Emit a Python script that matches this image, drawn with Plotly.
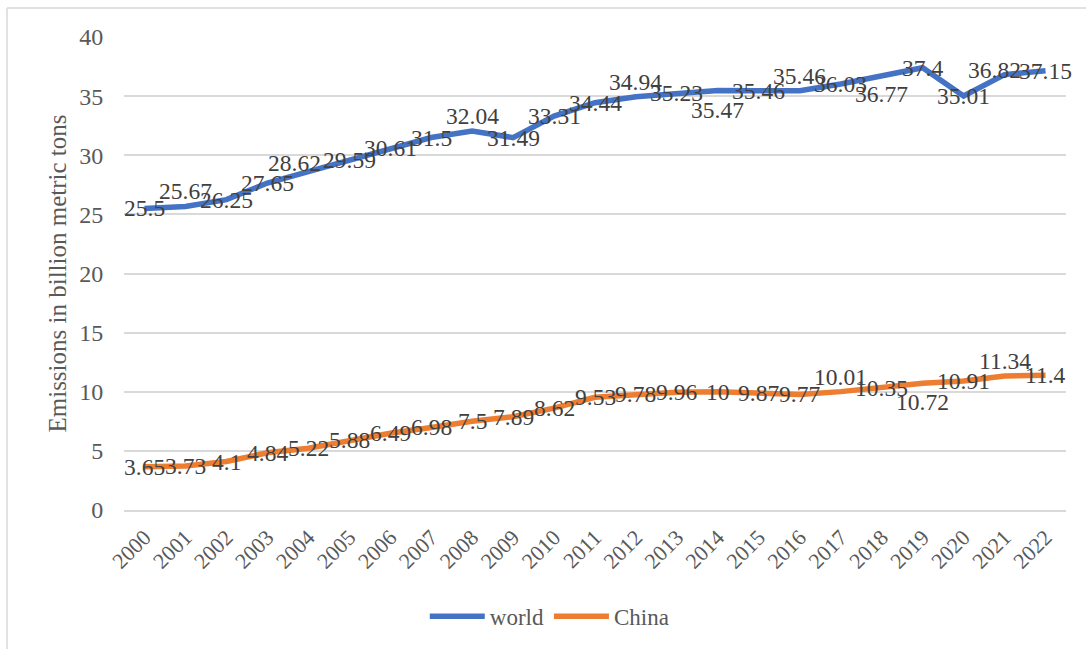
import plotly.graph_objects as go

# Annual CO2 emissions, billion metric tons
years = [str(y) for y in range(2000, 2023)]
world = [25.5, 25.67, 26.25, 27.65, 28.62, 29.59, 30.61, 31.5, 32.04, 31.49, 33.31,
         34.44, 34.94, 35.23, 35.47, 35.46, 35.46, 36.03, 36.77, 37.4, 35.01, 36.82, 37.15]
china = [3.65, 3.73, 4.1, 4.84, 5.22, 5.88, 6.49, 6.98, 7.5, 7.89, 8.62,
         9.53, 9.78, 9.96, 10, 9.87, 9.77, 10.01, 10.35, 10.72, 10.91, 11.34, 11.4]
y_ticks = [0, 5, 10, 15, 20, 25, 30, 35, 40]

# data-label placement: c = centred on point, a = above, b = below, tl/l = nudged left
world_label_pos = ["c", "a", "c", "c", "tl", "c", "c", "c", "a", "c", "c", "c",
                   "a", "c", "b", "c", "a", "c", "b", "c", "c", "l", "c"]
china_label_pos = ["c"] * 17 + ["a", "c", "b", "c", "a", "c"]
label_shift = {"c": (0, 0), "a": (0, 15), "b": (0, -19), "tl": (-14, 9), "l": (-10, 5)}

FONT = "Liberation Serif, Times New Roman, serif"
BLUE = "#4472C4"
ORANGE = "#ED7D31"
GRID = "#D9D9D9"

fig = go.Figure()
fig.add_trace(go.Scatter(x=years, y=world, mode="lines", name="world",
                         line=dict(color=BLUE, width=5.5)))
fig.add_trace(go.Scatter(x=years, y=china, mode="lines", name="China",
                         line=dict(color=ORANGE, width=5.5)))

annotations = []
for series, positions in ((world, world_label_pos), (china, china_label_pos)):
    # category axes place annotations by category index
    for idx, (v, p) in enumerate(zip(series, positions)):
        dx, dy = label_shift[p]
        annotations.append(dict(
            x=idx, y=v, xref="x", yref="y", text=f"{v:g}", showarrow=False,
            xanchor="center", yanchor="middle", xshift=dx, yshift=dy,
            font=dict(family=FONT, size=23.5, color="#404040")))

# rotated y-axis title
annotations.append(dict(
    x=-0.0711, y=0.5, xref="paper", yref="paper", text="Emissions in billion metric tons",
    showarrow=False, textangle=-90, xanchor="center", yanchor="middle",
    font=dict(family=FONT, size=25, color="#595959")))

# chart-area outline (top and left edges)
shapes = [
    dict(type="line", xref="paper", yref="paper", x0=-0.1242, x1=1.1, y0=1.0612, y1=1.0612,
         line=dict(color=GRID, width=1.5)),
    dict(type="line", xref="paper", yref="paper", x0=-0.1242, x1=-0.1242, y0=-0.4, y1=1.0612,
         line=dict(color=GRID, width=1.5)),
]

fig.update_layout(
    width=1086, height=649,
    margin=dict(l=124, r=20, t=37, b=138),
    paper_bgcolor="white", plot_bgcolor="white",
    font=dict(family=FONT, color="#595959"),
    showlegend=True,
    legend=dict(orientation="h", x=0.452, xanchor="center", y=-0.222, yanchor="middle",
                font=dict(family=FONT, size=23, color="#595959"),
                itemwidth=55, bgcolor="rgba(0,0,0,0)"),
    annotations=annotations,
    shapes=shapes,
)
fig.update_xaxes(type="category", range=[-0.5, 22.5], showgrid=False, zeroline=False,
                 showline=True, linecolor=GRID, linewidth=1.5,
                 tickangle=-45, tickfont=dict(family=FONT, size=22, color="#595959"),
                 ticks="outside", ticklen=4, tickcolor="rgba(0,0,0,0)")
fig.update_yaxes(range=[0, 40], tickvals=y_ticks, showgrid=True, gridcolor=GRID, gridwidth=1.5,
                 zeroline=False, showline=False,
                 tickfont=dict(family=FONT, size=24, color="#595959"),
                 ticks="outside", ticklen=15, tickcolor="rgba(0,0,0,0)")

fig.write_html("out.html")
